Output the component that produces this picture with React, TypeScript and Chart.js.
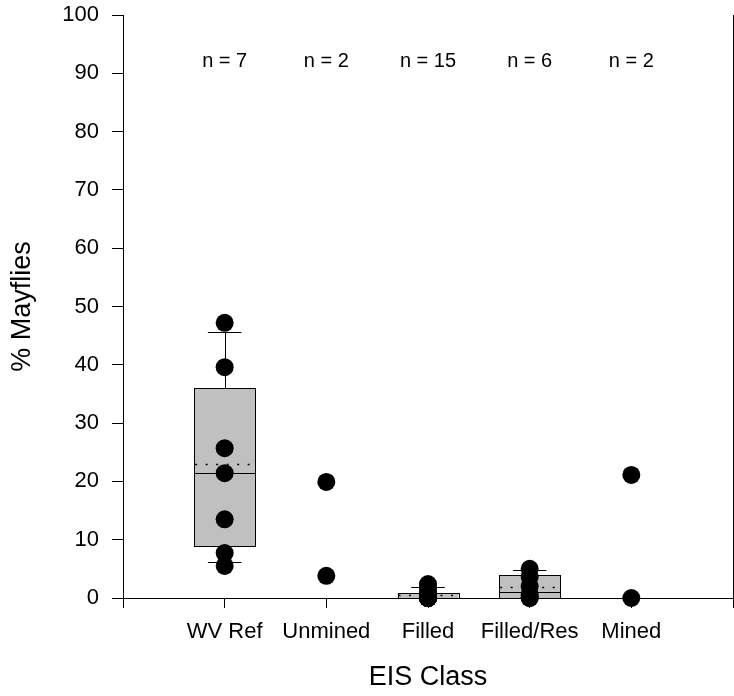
import React, { useEffect, useRef } from "react";
import { Chart, registerables } from "chart.js";

Chart.register(...registerables);

// ---- Data ----
const categories = ["WV Ref", "Unmined", "Filled", "Filled/Res", "Mined"];
const nCounts = [7, 2, 15, 6, 2];

const wvRefValues = [47.2, 39.6, 25.7, 21.4, 13.5, 7.7, 5.5];
const unminedValues = [19.9, 3.8];
const filledValues = [2.4, 1.7, 1.1, 0.6, 0.2, 0, 0, 0, 0, 0, 0, 0, 0, 0, 0];
const filledResValues = [5.0, 3.6, 2.0, 0.6, 0, 0];
const minedValues = [21.1, 0];

const boxCategories = ["WV Ref", "Filled", "Filled/Res"];
const boxQ1 = [8.9, 0, 0];
const boxQ3 = [36.0, 0.8, 3.9];
const boxMedian = [21.4, 0, 1.1];
const boxMean = [23.0, 0.5, 1.9];
const whiskerLow: (number | null)[] = [6.2, null, null];
const whiskerHigh: (number | null)[] = [45.6, 1.9, 4.8];

const yTicks = [0, 10, 20, 30, 40, 50, 60, 70, 80, 90, 100];

const FONT = '"Liberation Sans", Arial, sans-serif';
const BOX_HALF = 0.3;
const CAP_HALF = 0.165;
const N_LABEL_Y = 92.1;

const seriesByCategory = [wvRefValues, unminedValues, filledValues, filledResValues, minedValues];

const boxPlugin = {
  id: "boxPlugin",
  beforeDatasetsDraw(chart: any) {
    const { ctx, scales } = chart;
    const xs = scales.x;
    const ys = scales.y;
    ctx.save();
    boxCategories.forEach((cat, i) => {
      const pos = categories.indexOf(cat) + 1;
      const xl = xs.getPixelForValue(pos - BOX_HALF);
      const xr = xs.getPixelForValue(pos + BOX_HALF);
      const xc = Math.round(xs.getPixelForValue(pos)) + 0.5;
      const cl = xs.getPixelForValue(pos - CAP_HALF);
      const cr = xs.getPixelForValue(pos + CAP_HALF);
      const yq1 = ys.getPixelForValue(boxQ1[i]);
      const yq3 = ys.getPixelForValue(boxQ3[i]);
      ctx.lineWidth = 1;
      ctx.strokeStyle = "#000";
      ctx.setLineDash([]);
      const hi = whiskerHigh[i];
      if (hi !== null) {
        const yh = Math.round(ys.getPixelForValue(hi)) + 0.5;
        ctx.beginPath();
        ctx.moveTo(xc, yq3);
        ctx.lineTo(xc, yh);
        ctx.moveTo(cl, yh);
        ctx.lineTo(cr, yh);
        ctx.stroke();
      }
      const lo = whiskerLow[i];
      if (lo !== null) {
        const yl = Math.round(ys.getPixelForValue(lo)) + 0.5;
        ctx.beginPath();
        ctx.moveTo(xc, yq1);
        ctx.lineTo(xc, yl);
        ctx.moveTo(cl, yl);
        ctx.lineTo(cr, yl);
        ctx.stroke();
      }
      ctx.fillStyle = "#c0c0c0";
      ctx.fillRect(xl, yq3, xr - xl, yq1 - yq3);
      ctx.strokeRect(Math.round(xl) + 0.5, Math.round(yq3) + 0.5, Math.round(xr - xl), Math.round(yq1 - yq3));
      const ym = Math.round(ys.getPixelForValue(boxMedian[i])) + 0.5;
      ctx.beginPath();
      ctx.moveTo(xl, ym);
      ctx.lineTo(xr, ym);
      ctx.stroke();
      const ymean = Math.round(ys.getPixelForValue(boxMean[i])) + 0.5;
      ctx.setLineDash([2, 8.5]);
      ctx.lineWidth = 1.5;
      ctx.beginPath();
      ctx.moveTo(xl + 1, ymean);
      ctx.lineTo(xr, ymean);
      ctx.stroke();
      ctx.setLineDash([]);
    });
    ctx.restore();
  },
  afterDraw(chart: any) {
    const { ctx, scales } = chart;
    const xs = scales.x;
    const ys = scales.y;
    ctx.save();
    ctx.fillStyle = "#000";
    ctx.font = `20px ${FONT}`;
    ctx.textAlign = "center";
    ctx.textBaseline = "middle";
    nCounts.forEach((n, i) => {
      ctx.fillText(`n = ${n}`, xs.getPixelForValue(i + 1), ys.getPixelForValue(N_LABEL_Y));
    });
    ctx.restore();
  },
};

export default function App() {
  const canvasRef = useRef<HTMLCanvasElement | null>(null);

  useEffect(() => {
    const canvas = canvasRef.current;
    if (!canvas) return;
    const points: { x: number; y: number }[] = [];
    seriesByCategory.forEach((vals, i) => {
      vals.forEach((v) => points.push({ x: i + 1, y: v }));
    });

    const chart = new Chart(canvas, {
      type: "scatter",
      data: {
        datasets: [
          {
            data: points,
            pointRadius: 9,
            pointHoverRadius: 9,
            backgroundColor: "#000",
            borderWidth: 0,
            clip: false as any,
          },
        ],
      },
      options: {
        animation: false,
        responsive: false,
        events: [],
        layout: { autoPadding: false, padding: { top: 15, right: 1, bottom: 0, left: 0 } },
        plugins: {
          legend: { display: false },
          tooltip: { enabled: false },
        },
        scales: {
          x: {
            type: "linear",
            min: 0,
            max: categories.length + 1,
            afterBuildTicks: (scale: any) => {
              scale.ticks = Array.from({ length: categories.length + 2 }, (_, i) => ({ value: i }));
            },
            ticks: {
              autoSkip: false,
              maxRotation: 0,
              padding: 11,
              color: "#000",
              font: { family: FONT, size: 22 },
              callback: (v: any) => categories[Number(v) - 1] ?? "",
            },
            grid: {
              display: true,
              drawOnChartArea: false,
              drawTicks: true,
              tickLength: 10,
              color: "#000",
              lineWidth: 1,
            },
            border: { display: true, color: "#000", width: 1 },
            title: {
              display: true,
              text: "EIS Class",
              color: "#000",
              font: { family: FONT, size: 27 },
              padding: { top: 0, bottom: 2 },
            },
            afterFit: (scale: any) => {
              scale.height = 98;
              scale.paddingLeft = 0;
              scale.paddingRight = 0;
            },
          },
          y: {
            type: "linear",
            min: 0,
            max: 100,
            afterBuildTicks: (scale: any) => {
              scale.ticks = yTicks.map((v) => ({ value: v }));
            },
            ticks: {
              padding: 13,
              color: "#000",
              font: { family: FONT, size: 22 },
            },
            grid: {
              display: true,
              drawOnChartArea: false,
              drawTicks: true,
              tickLength: 11,
              color: "#000",
              lineWidth: 1,
            },
            border: { display: true, color: "#000", width: 1 },
            title: {
              display: true,
              text: "% Mayflies",
              color: "#000",
              font: { family: FONT, size: 27 },
              padding: { top: 6, bottom: 0 },
            },
            afterFit: (scale: any) => {
              scale.width = 123;
              scale.paddingTop = 0;
              scale.paddingBottom = 0;
            },
          },
          y2: {
            type: "linear",
            position: "right",
            min: 0,
            max: 100,
            ticks: { display: false },
            grid: { display: false, drawTicks: false },
            border: { display: true, color: "#000", width: 1 },
            afterFit: (scale: any) => {
              scale.width = 0;
              scale.paddingTop = 0;
              scale.paddingBottom = 0;
            },
          },
        },
      },
      plugins: [boxPlugin],
    } as any);

    return () => chart.destroy();
  }, []);

  return (
    <div style={{ position: "fixed", left: 0, top: 0, width: 734, height: 696, background: "#fff" }}>
      <canvas ref={canvasRef} width={734} height={696} style={{ display: "block", width: 734, height: 696 }} />
    </div>
  );
}
